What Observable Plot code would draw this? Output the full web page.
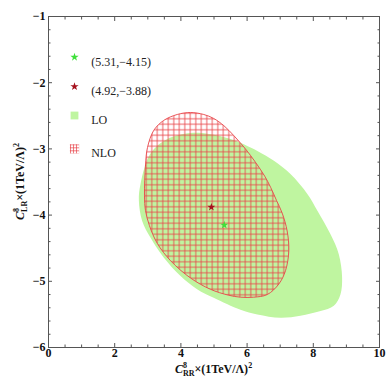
<!DOCTYPE html>
<html><head><meta charset="utf-8">
<script src="https://cdn.jsdelivr.net/npm/d3@7"></script>
<script src="https://cdn.jsdelivr.net/npm/@observablehq/plot@0.6"></script>
<style>body{margin:0;background:#fff;} #chart{width:391px;height:385px;}</style>
</head><body><div id="chart"></div>
<script>
// LO allowed region boundary
const loX = [2.73, 2.78, 3.08, 3.59, 4.29, 4.80, 5.50, 6.31, 6.81, 7.31, 7.82, 8.12, 8.52, 8.77, 8.87, 8.82, 8.62, 8.22, 7.61, 7.01, 6.31, 5.80, 4.99, 4.49, 3.99, 3.48, 3.08, 2.83];
const loY = [-3.78, -3.53, -3.07, -2.85, -2.76, -2.77, -2.85, -3.03, -3.18, -3.38, -3.68, -3.93, -4.29, -4.59, -4.94, -5.20, -5.37, -5.45, -5.52, -5.55, -5.50, -5.43, -5.25, -5.12, -4.92, -4.64, -4.34, -4.09];
// NLO allowed region boundary
const nloX = [2.90, 2.93, 2.99, 3.18, 3.48, 3.89, 4.29, 4.69, 4.99, 5.30, 5.60, 5.95, 6.25, 6.53, 6.71, 6.89, 7.06, 7.21, 7.26, 7.16, 6.96, 6.61, 6.20, 5.80, 5.44, 4.89, 4.29, 3.69, 3.29, 3.05, 2.93];
const nloY = [-3.71, -3.25, -2.98, -2.72, -2.57, -2.48, -2.45, -2.48, -2.54, -2.65, -2.80, -3.00, -3.20, -3.41, -3.58, -3.78, -3.97, -4.24, -4.54, -4.84, -5.04, -5.20, -5.24, -5.24, -5.21, -5.12, -4.95, -4.69, -4.43, -4.16, -3.93];
// best-fit points
const bestNames = ["LO", "NLO"];
const bestX = [5.31, 4.92];
const bestY = [-4.15, -3.88];
const legendLabels = ["(5.31,\u22124.15)", "(4.92,\u22123.88)", "LO", "NLO"];
const xTicks = [0, 2, 4, 6, 8, 10];
const yTicks = [-1, -2, -3, -4, -5, -6];

const loColor = "#bff5a0";
const red = "#e8454a";
const lo = loX.map((x, i) => ({x, y: loY[i]}));
const nlo = nloX.map((x, i) => ({x, y: nloY[i]}));
const best = bestNames.map((n, i) => ({n, x: bestX[i], y: bestY[i]}));

const xMinor = d3.range(0, 10.001, 0.5).filter(v => !xTicks.includes(v));
const yMinor = d3.range(-6, -0.999, 0.2).map(v => Math.round(v * 10) / 10).filter(v => !yTicks.includes(v));
const tickStroke = "#555";
const fmt = d => (d < 0 ? "\u2212" : "") + Math.abs(d);

const plot = Plot.plot({
  width: 391, height: 385,
  marginLeft: 48, marginRight: 12, marginTop: 16, marginBottom: 38,
  x: {domain: [0, 10], label: null},
  y: {domain: [-6, -1], label: null},
  style: {fontFamily: "'Liberation Serif', 'Times New Roman', serif", fontSize: "12px", background: "white", color: "#222"},
  marks: [
    Plot.line(lo, {x: "x", y: "y", curve: "catmull-rom-closed", fill: loColor, stroke: "none"}),
    Plot.line(nlo, {x: "x", y: "y", curve: "catmull-rom-closed", fill: "url(#nloHatch)", stroke: red, strokeWidth: 0.9}),
    Plot.dot(best.filter(d => d.n === "LO"), {x: "x", y: "y", symbol: "star", r: 2.5, fill: "#3ee03a"}),
    Plot.dot(best.filter(d => d.n === "NLO"), {x: "x", y: "y", symbol: "star", r: 2.5, fill: "#a5101c"}),
    Plot.frame({stroke: "#555"}),
    // labels
    Plot.axisX(xTicks, {anchor: "bottom", tickSize: 0, tickPadding: 1, tickFormat: fmt, fontWeight: "bold", fill: "#111", label: null}),
    Plot.axisY(yTicks, {anchor: "left", tickSize: 0, tickPadding: 3, tickFormat: fmt, fontWeight: "bold", fill: "#111", label: null}),
    // inward ticks on all sides
    Plot.axisX(xTicks, {anchor: "bottom", tickSize: -4, fill: "none", stroke: tickStroke, label: null}),
    Plot.axisX(xTicks, {anchor: "top", tickSize: -4, fill: "none", stroke: tickStroke, label: null}),
    Plot.axisX(xMinor, {anchor: "bottom", tickSize: -2.5, fill: "none", stroke: tickStroke, label: null}),
    Plot.axisX(xMinor, {anchor: "top", tickSize: -2.5, fill: "none", stroke: tickStroke, label: null}),
    Plot.axisY(yTicks, {anchor: "left", tickSize: -4, fill: "none", stroke: tickStroke, label: null}),
    Plot.axisY(yTicks, {anchor: "right", tickSize: -4, fill: "none", stroke: tickStroke, label: null}),
    Plot.axisY(yMinor, {anchor: "left", tickSize: -2.5, fill: "none", stroke: tickStroke, label: null}),
    Plot.axisY(yMinor, {anchor: "right", tickSize: -2.5, fill: "none", stroke: tickStroke, label: null}),
    // legend
    Plot.dot([legendLabels[0]], {frameAnchor: "top-left", dx: 26, dy: 40.7, symbol: "star", r: 2.6, fill: "#3ee03a"}),
    Plot.text([legendLabels[0]], {frameAnchor: "top-left", dx: 42.7, dy: 40.7, text: d => d, textAnchor: "start", fill: "#222"}),
    Plot.dot([legendLabels[1]], {frameAnchor: "top-left", dx: 26, dy: 70, symbol: "star", r: 2.6, fill: "#a5101c"}),
    Plot.text([legendLabels[1]], {frameAnchor: "top-left", dx: 42.7, dy: 70, text: d => d, textAnchor: "start", fill: "#222"}),
    Plot.dot([legendLabels[2]], {frameAnchor: "top-left", dx: 26, dy: 99, symbol: "square", r: 4.4, fill: loColor}),
    Plot.text([legendLabels[2]], {frameAnchor: "top-left", dx: 42.7, dy: 99, text: d => d, textAnchor: "start", fill: "#222"}),
    Plot.dot([legendLabels[3]], {frameAnchor: "top-left", dx: 26, dy: 132.3, symbol: "square", r: 5.2, fill: "url(#nloHatchSmall)"}),
    Plot.text([legendLabels[3]], {frameAnchor: "top-left", dx: 42.7, dy: 132.3, text: d => d, textAnchor: "start", fill: "#222"})
  ]
});

const svg = d3.select(plot);
const defs = svg.insert("defs", ":first-child");
const p1 = defs.append("pattern").attr("id", "nloHatch").attr("patternUnits", "userSpaceOnUse").attr("width", 5.5).attr("height", 5.5);
p1.append("path").attr("d", "M0,2.75H5.5M2.75,0V5.5").attr("stroke", red).attr("stroke-width", 0.85).attr("fill", "none");
const p2 = defs.append("pattern").attr("id", "nloHatchSmall").attr("patternUnits", "userSpaceOnUse").attr("width", 3).attr("height", 3).attr("x", 0.5).attr("y", 0.5);
p2.append("path").attr("d", "M0,1.5H3M1.5,0V3").attr("stroke", red).attr("stroke-width", 0.7).attr("fill", "none");

function axisLabel(g, sub) {
  g.attr("font-weight", "bold").attr("font-size", 12).attr("fill", "#111").attr("text-anchor", "middle")
   .attr("font-family", "'Liberation Serif', 'Times New Roman', serif");
  g.append("tspan").attr("font-style", "italic").text("C");
  g.append("tspan").attr("font-size", 8).attr("dy", -5).text("8");
  g.append("tspan").attr("font-size", 8).attr("dx", -4).attr("dy", 8).text(sub);
  g.append("tspan").attr("dy", -3).text("\u00d7(1TeV/\u039b)");
  g.append("tspan").attr("font-size", 8).attr("dy", -5).text("2");
}
axisLabel(svg.append("text").attr("x", 213.5).attr("y", 373), "RR");
axisLabel(svg.append("text").attr("transform", "translate(24,181.5) rotate(-90)"), "LR");

document.getElementById("chart").appendChild(plot);
</script>
</body></html>
